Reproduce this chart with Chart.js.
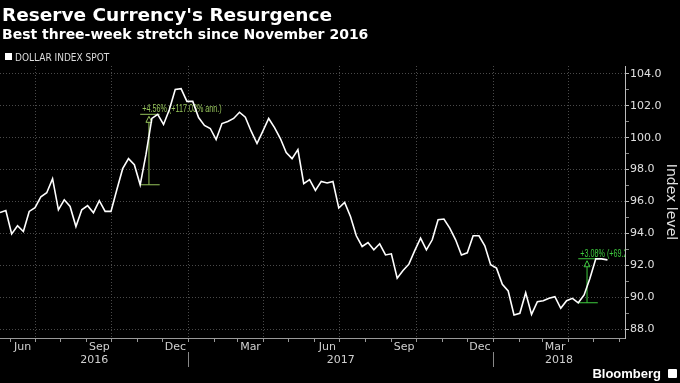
<!DOCTYPE html>
<html>
<head>
<meta charset="utf-8">
<script src="https://cdn.jsdelivr.net/npm/chart.js@4.4.1/dist/chart.umd.min.js"></script>
<style>
  html, body { margin: 0; padding: 0; background: #000; }
  #wrap { position: relative; width: 680px; height: 383px; background: #000; overflow: hidden; }
  #chart { position: absolute; left: 0; top: 0; }
  .hdr { position: absolute; left: 2px; color: #fff; font-family: "DejaVu Sans", sans-serif; font-weight: bold; white-space: nowrap; line-height: 1; }
  #title { top: 6px; font-size: 18.5px; }
  #subtitle { top: 27px; font-size: 14px; }
  #legendBox { position: absolute; left: 5px; top: 53px; width: 7px; height: 7px; background: #fff; }
  #legendText { position: absolute; left: 15px; top: 52px; color: #ddd; line-height: 1; white-space: nowrap;
    font: 10px "Liberation Sans Narrow", "DejaVu Sans Condensed", "Liberation Sans", sans-serif; }
  #brand { position: absolute; right: 19px; top: 366px; color: #fff; line-height: 1;
    font: bold 13px "Liberation Sans", Arial, sans-serif; }
  #brandIcon { position: absolute; left: 668px; top: 369px; width: 9px; height: 9px; background: #fff; border-radius: 1px; }
</style>
</head>
<body>
<div id="wrap">
  <canvas id="chart" width="680" height="383"></canvas>
  <div id="title" class="hdr">Reserve Currency's Resurgence</div>
  <div id="subtitle" class="hdr">Best three-week stretch since November 2016</div>
  <div id="legendBox"></div>
  <div id="legendText">DOLLAR INDEX SPOT</div>
  <div id="brand">Bloomberg</div>
  <div id="brandIcon"></div>
</div>
<script>
// weekly closes (Fridays), first one below
const startDate = '2016-05-20';
const xFrom = '2016-05-20';
const xTo = '2018-06-08';

const dollarIndex = [
  95.31, 95.44, 93.97, 94.48, 94.12, 95.38, 95.61, 96.30, 96.55, 97.43,
  95.48, 96.11, 95.69, 94.43, 95.48, 95.74, 95.30, 96.05, 95.38, 95.38,
  96.74, 98.06, 98.69, 98.31, 97.05, 98.97, 101.21, 101.47, 100.83, 101.77,
  103.03, 103.08, 102.28, 102.28, 101.27, 100.77, 100.58, 99.89, 100.89, 101.02,
  101.21, 101.60, 101.29, 100.41, 99.64, 100.41, 101.21, 100.64, 99.95, 99.07,
  98.69, 99.26, 97.12, 97.37, 96.70, 97.26, 97.16, 97.25, 95.59, 95.94,
  95.06, 93.85, 93.18, 93.43, 92.97, 93.35, 92.65, 92.72, 91.19, 91.67,
  92.07, 92.92, 93.70, 92.97, 93.60, 94.86, 94.90, 94.33, 93.60, 92.65,
  92.78, 93.85, 93.85, 93.22, 92.03, 91.82, 90.81, 90.39, 88.88, 88.99,
  90.28, 88.92, 89.72, 89.78, 89.93, 90.03, 89.30, 89.78, 89.93, 89.65,
  90.14, 91.19, 92.41, 92.40, 92.34
];

// x axis: month ticks, labels, quarter gridlines, years
const monthNames = ['Jan','Feb','Mar','Apr','May','Jun','Jul','Aug','Sep','Oct','Nov','Dec'];
const labelMonths = ['Mar', 'Jun', 'Sep', 'Dec'];
const gridMonths = ['Jan', 'Apr', 'Jul', 'Oct'];
const yearLabels = ['2016', '2017', '2018'];
const yearBreaks = ['2017-01-01', '2018-01-01'];

// y axis
const yMin = 87.44;
const yMax = 104.5;
const yTicks = [88, 89, 90, 91, 92, 93, 94, 95, 96, 97, 98, 99, 100, 101, 102, 103, 104];

// the two 3-week moves marked on the chart
const moves = [
  { from: 24, to: 27, text: '+4.56% (+117.03% ann.)', color: '#95c35a' },
  { from: 99, to: 102, text: '+3.08% (+69.20% ann.)', color: '#3ecb3e' }
];

const DAY = 86400000;
const ms = s => Date.parse(s);
const weekDates = dollarIndex.map((v, i) => ms(startDate) + i * 7 * DAY);
const points = dollarIndex.map((v, i) => ({ x: weekDates[i], y: v }));

// month boundaries from Jun 2016 to Jun 2018
const monthTicks = [];
for (let y = 2016, m = 5; y < 2018 || m <= 5; ) {
  monthTicks.push(Date.UTC(y, m, 1));
  m++;
  if (m > 11) { m = 0; y++; }
}
const monthOf = v => monthNames[new Date(v).getUTCMonth()];
// label sits mid-month, so skip a month that runs past the right edge
const showMonth = v => labelMonths.includes(monthOf(v)) && v + 15 * DAY < ms(xTo);

const b0 = ms(yearBreaks[0]), b1 = ms(yearBreaks[1]);
const yearTicks = [(ms(xFrom) + b0) / 2, b0, (b0 + b1) / 2, b1, (b1 + ms(xTo)) / 2];
const yearTickLabels = [yearLabels[0], '', yearLabels[1], '', yearLabels[2]];

const tickFont = { family: '"DejaVu Sans", sans-serif', size: 11 };
const gridColor = '#4a4a4a';
const none = 'rgba(0,0,0,0)';

const movePlugin = {
  id: 'moves',
  beforeDatasetsDraw(chart) {
    const { ctx, chartArea: a, scales: { x, y } } = chart;
    ctx.save();
    ctx.beginPath();
    ctx.rect(a.left, a.top, a.right - a.left, a.bottom - a.top);
    ctx.clip();
    moves.forEach(m => {
      const x0 = x.getPixelForValue(weekDates[m.from]);
      const x1 = x.getPixelForValue(weekDates[m.to]);
      const yb = y.getPixelForValue(dollarIndex[m.from]);
      const yt = y.getPixelForValue(dollarIndex[m.to]);
      const xm = (x0 + x1) / 2;
      ctx.strokeStyle = m.color;
      ctx.fillStyle = m.color;
      ctx.lineWidth = 1;
      ctx.beginPath();
      ctx.moveTo(x0, yb); ctx.lineTo(x1 + 2, yb);
      ctx.moveTo(x0, yt); ctx.lineTo(x1 + 2, yt);
      ctx.moveTo(xm, yb); ctx.lineTo(xm, yt + 8);
      ctx.stroke();
      ctx.beginPath();
      ctx.moveTo(xm, yt + 2); ctx.lineTo(xm - 3, yt + 8); ctx.lineTo(xm + 3, yt + 8);
      ctx.closePath();
      ctx.stroke();
      // narrow terminal-style label
      ctx.save();
      ctx.translate(x0 + 2, yt - 2);
      ctx.scale(0.72, 1);
      ctx.font = '10px "Liberation Sans", sans-serif';
      ctx.textBaseline = 'alphabetic';
      ctx.fillText(m.text, 0, 0);
      ctx.restore();
    });
    ctx.restore();
  }
};

new Chart(document.getElementById('chart'), {
  type: 'line',
  data: {
    datasets: [{
      label: 'DOLLAR INDEX SPOT',
      data: points,
      borderColor: '#ffffff',
      borderWidth: 1.6,
      pointRadius: 0,
      tension: 0,
      fill: false
    }]
  },
  options: {
    responsive: false,
    animation: false,
    devicePixelRatio: 1,
    layout: { padding: { top: 66, left: 0, right: 0, bottom: 0 } },
    plugins: { legend: { display: false }, tooltip: { enabled: false } },
    scales: {
      x: {
        type: 'linear',
        position: 'bottom',
        min: ms(xFrom),
        max: ms(xTo),
        afterBuildTicks: s => { s.ticks = monthTicks.map(v => ({ value: v })); },
        afterFit: s => { s.height = 14; },
        grid: {
          color: c => (c.tick && gridMonths.includes(monthOf(c.tick.value))) ? gridColor : none,
          tickColor: '#999',
          tickLength: 4,
          tickBorderDash: []
        },
        border: { display: true, color: '#999', dash: [1, 2] },
        ticks: {
          autoSkip: false,
          maxRotation: 0,
          color: '#d0d0d0',
          font: tickFont,
          padding: -1.5,
          labelOffset: 12.7,
          callback: v => showMonth(v) ? monthOf(v) : ''
        }
      },
      x2: {
        type: 'linear',
        position: 'bottom',
        weight: 1,
        min: ms(xFrom),
        max: ms(xTo),
        afterBuildTicks: s => { s.ticks = yearTicks.map(v => ({ value: v })); },
        afterFit: s => { s.height = 31; },
        grid: {
          drawOnChartArea: false,
          color: none,
          tickLength: 15,
          tickColor: c => (c.tick && yearTickLabels[c.index] === '') ? '#888' : none
        },
        border: { display: false },
        ticks: {
          autoSkip: false,
          maxRotation: 0,
          color: '#d0d0d0',
          font: tickFont,
          padding: -13.6,
          callback: (v, i) => yearTickLabels[i]
        }
      },
      y: {
        position: 'right',
        min: yMin,
        max: yMax,
        afterBuildTicks: s => { s.ticks = yTicks.map(v => ({ value: v })); },
        afterFit: s => { s.width = 55; },
        grid: {
          color: c => (c.tick && c.tick.value % 2 === 0) ? gridColor : none,
          tickColor: c => (c.tick && c.tick.value % 2 === 0) ? '#bbb' : '#888',
          tickLength: 4,
          tickBorderDash: []
        },
        border: { display: true, color: '#bbb', dash: [1, 2] },
        ticks: {
          autoSkip: false,
          color: '#e0e0e0',
          font: tickFont,
          padding: 1,
          callback: v => v % 2 === 0 ? v.toFixed(1) : ''
        },
        title: {
          display: true,
          text: 'Index level',
          color: '#e0e0e0',
          font: { family: '"DejaVu Sans", sans-serif', size: 14 },
          padding: { top: 1, bottom: 0 }
        }
      }
    }
  },
  plugins: [movePlugin]
});
</script>
</body>
</html>
